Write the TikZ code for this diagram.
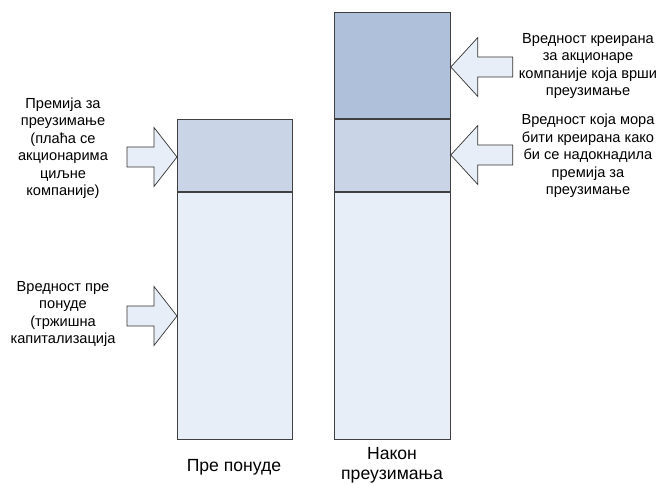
\documentclass[tikz,border=0pt]{standalone}
\usepackage{fontspec}
\setmainfont{Liberation Sans}
\begin{document}
\begin{tikzpicture}[x=1pt,y=-1pt,
  bar/.style={draw=black!75, line width=0.8pt},
  light/.style={bar, fill=lightfill},
  mid/.style={bar, fill=midfill},
  dark/.style={bar, fill=darkfill},
  pointer/.style={draw=black!80, line width=0.7pt, fill=lightfill, line join=miter},
  caption/.style={align=center, inner sep=0pt, font=\fontsize{14.6}{17.5}\selectfont},
  axislabel/.style={align=center, inner sep=0pt, font=\fontsize{17.6}{20}\selectfont}
]
\definecolor{lightfill}{HTML}{E8EEF7}
\definecolor{midfill}{HTML}{C9D5E6}
\definecolor{darkfill}{HTML}{AFC1DA}
\useasboundingbox (0,0) rectangle (662,486);

% left column: value before the offer
\node[light, minimum width=115pt, minimum height=247pt, anchor=north west, inner sep=0pt] (baseL) at (177,192) {};
\node[mid, minimum width=115pt, minimum height=72pt, anchor=south west, inner sep=0pt] (premL) at (baseL.north west) {};

% right column: value after the takeover
\node[light, minimum width=116pt, minimum height=247pt, anchor=north west, inner sep=0pt] (baseR) at (334,192) {};
\node[mid, minimum width=116pt, minimum height=72pt, anchor=south west, inner sep=0pt] (premR) at (baseR.north west) {};
\node[dark, minimum width=116pt, minimum height=106pt, anchor=south west, inner sep=0pt] (gainR) at (premR.north west) {};

% arrow tips
\coordinate (tipA) at (premL.west |- 0,157);
\coordinate (tipB) at (baseL.west |- 0,316);
\coordinate (tipC) at (gainR.east |- 0,67);
\coordinate (tipD) at (premR.east |- 0,155);

% block arrows pointing right
\draw[pointer] (tipA) -- ++(-23,-29.5) -- ++(0,19.5) -- ++(-27,0) -- ++(0,20) -- ++(27,0) -- ++(0,19.5) -- cycle;
\draw[pointer] (tipB) -- ++(-23,-29.5) -- ++(0,19.5) -- ++(-27,0) -- ++(0,20) -- ++(27,0) -- ++(0,19.5) -- cycle;
% block arrows pointing left
\draw[pointer] (tipC) -- ++(27,-29.5) -- ++(0,19.5) -- ++(35,0) -- ++(0,20) -- ++(-35,0) -- ++(0,19.5) -- cycle;
\draw[pointer] (tipD) -- ++(27,-29.5) -- ++(0,19.5) -- ++(35,0) -- ++(0,20) -- ++(-35,0) -- ++(0,19.5) -- cycle;

% labels
\node[caption] (txtA) at (63,148) {Премија за\\преузимање\\(плаћа се\\акционарима\\циљне\\компаније)};
\node[caption] (txtB) at (63,314) {Вредност пре\\понуде\\(тржишна\\капитализација};
\node[caption] (txtC) at (588,66) {Вредност креирана\\за акционаре\\компаније која врши\\преузимање};
\node[caption] (txtD) at (588,156) {Вредност која мора\\бити креирана како\\би се надокнадила\\премија за\\преузимање};
\node[axislabel] (capL) at (234,467) {Пре понуде};
\node[axislabel] (capR) at (392,465) {Након\\преузимања};
\end{tikzpicture}
\end{document}
